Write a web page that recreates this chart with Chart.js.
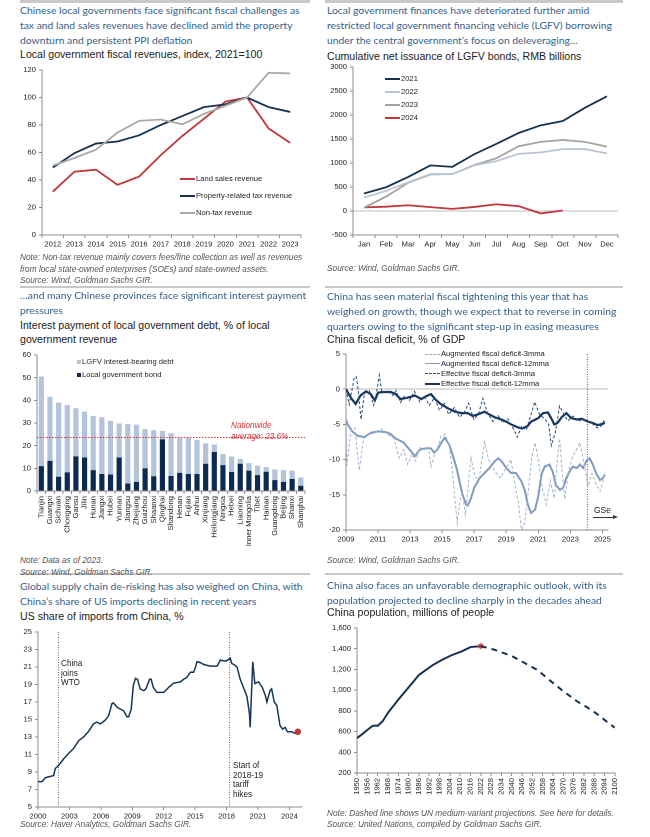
<!DOCTYPE html>
<html>
<head>
<meta charset="utf-8">
<script src="https://cdn.jsdelivr.net/npm/chart.js@4.4.1/dist/chart.umd.min.js"></script>
<style>
  body { margin: 0; width: 650px; height: 837px; position: relative; overflow: hidden; background: #fff;
         font-family: "Liberation Sans", Arial, sans-serif; }
  .rule { position: absolute; background: #c8c8c8; height: 2px; }
  .title { position: absolute; font-family: Lato, "Open Sans", sans-serif; color: #35618b; font-size: 10.35px;
           line-height: 15px; white-space: nowrap; }
  .sub { position: absolute; color: #222; font-size: 10.6px; line-height: 13.5px; white-space: nowrap; }
  .note { position: absolute; color: #555; font-style: italic; font-size: 8.3px; line-height: 11.5px; white-space: nowrap; }
  .leg { position: absolute; font-size: 7.6px; color: #222; white-space: nowrap; line-height: 10px; }
  .leg i { display: inline-block; width: 15px; height: 0; vertical-align: middle; border-top: 2px solid; margin-right: 1px; }
  .leg b { display: inline-block; width: 4px; height: 4px; vertical-align: middle; margin-right: 1px; }
  .ann { position: absolute; font-size: 8.2px; color: #222; line-height: 9.5px; white-space: nowrap; }
  .box { position: absolute; }
</style>
</head>
<body>

<div class="rule" style="left:20px;top:0;width:290px;height:3px"></div>
<div class="rule" style="left:325px;top:0;width:298px;height:3px"></div>
<div class="rule" style="left:20px;top:286px;width:290px"></div>
<div class="rule" style="left:325px;top:286px;width:298px"></div>
<div class="rule" style="left:20px;top:573px;width:290px"></div>
<div class="rule" style="left:325px;top:573px;width:298px"></div>

<!-- panel 1 -->
<div class="title" style="left:20px;top:3px">Chinese local governments face significant fiscal challenges as<br>tax and land sales revenues have declined amid the property<br>downturn and persistent PPI deflation</div>
<div class="sub" style="left:20px;top:48px">Local government fiscal revenues, index, 2021=100</div>
<div class="box" style="left:18px;top:62px"><canvas id="c1" width="291" height="193" style="width:291px;height:193px"></canvas></div>
<div class="leg" style="left:180px;top:174px"><i style="border-color:#c0373d"></i>Land sales revenue</div>
<div class="leg" style="left:180px;top:191px"><i style="border-color:#17324f"></i>Property-related tax revenue</div>
<div class="leg" style="left:180px;top:208px"><i style="border-color:#a9a9a9"></i>Non-tax revenue</div>
<div class="note" style="left:20px;top:252px">Note: Non-tax revenue mainly covers fees/fine collection as well as revenues<br>from local state-owned enterprises (SOEs) and state-owned assets.<br>Source: Wind, Goldman Sachs GIR.</div>

<!-- panel 2 -->
<div class="title" style="left:327px;top:3px">Local government finances have deteriorated further amid<br>restricted local government financing vehicle (LGFV) borrowing<br>under the central government’s focus on deleveraging…</div>
<div class="sub" style="left:327px;top:50px">Cumulative net issuance of LGFV bonds, RMB billions</div>
<div class="box" style="left:325px;top:59px"><canvas id="c2" width="301" height="196" style="width:301px;height:196px"></canvas></div>
<div class="leg" style="left:385px;top:74px"><i style="border-color:#17324f"></i>2021</div>
<div class="leg" style="left:385px;top:86.5px"><i style="border-color:#bcc5d4"></i>2022</div>
<div class="leg" style="left:385px;top:99.5px"><i style="border-color:#a3a3a3"></i>2023</div>
<div class="leg" style="left:385px;top:112.5px"><i style="border-color:#c0373d"></i>2024</div>
<div class="note" style="left:327px;top:262.5px">Source: Wind, Goldman Sachs GIR.</div>

<!-- panel 3 -->
<div class="title" style="left:20px;top:288px">…and many Chinese provinces face significant interest payment<br>pressures</div>
<div class="sub" style="left:20px;top:319px">Interest payment of local government debt, % of local<br>government revenue</div>
<div class="box" style="left:17px;top:347px"><canvas id="c3" width="295" height="206" style="width:295px;height:206px"></canvas></div>
<div class="leg" style="left:77px;top:357px"><b style="background:#b3c3da"></b>LGFV interest-bearing debt</div>
<div class="leg" style="left:77px;top:370px"><b style="background:#0d2b52"></b>Local government bond</div>
<div class="ann" style="left:231px;top:421px;color:#d9343a;font-style:italic;line-height:10.5px">Nationwide<br>average: 23.6%</div>
<div class="note" style="left:20px;top:555px">Note: Data as of 2023.<br>Source: Wind, Goldman Sachs GIR.</div>

<!-- panel 4 -->
<div class="title" style="left:327px;top:288.5px">China has seen material fiscal tightening this year that has<br>weighed on growth, though we expect that to reverse in coming<br>quarters owing to the significant step-up in easing measures</div>
<div class="sub" style="left:327px;top:333px">China fiscal deficit,  % of GDP</div>
<div class="box" style="left:326px;top:346px"><canvas id="c4" width="292" height="204" style="width:292px;height:204px"></canvas></div>
<div class="leg" style="left:425px;top:349px"><i style="border-top:1px dashed #a3b3cb"></i>Augmented fiscal deficit-3mma</div>
<div class="leg" style="left:425px;top:358.5px"><i style="border-top:1.5px solid #7f9bc0"></i>Augmented fiscal deficit-12mma</div>
<div class="leg" style="left:425px;top:368.5px"><i style="border-top:1px dashed #2a4a73"></i>Effective fiscal deficit-3mma</div>
<div class="leg" style="left:425px;top:378.5px"><i style="border-top:2.5px solid #14365e"></i>Effective fiscal deficit-12mma</div>
<div class="ann" style="left:594px;top:506px;font-size:8.5px">GSe</div>
<div style="position:absolute;left:593px;top:517px;width:20px;border-top:1px solid #333"></div>
<div style="position:absolute;left:613px;top:515px;width:0;height:0;border-left:5px solid #333;border-top:2.5px solid transparent;border-bottom:2.5px solid transparent"></div>
<div class="note" style="left:327px;top:555px">Source: Wind, Goldman Sachs GIR.</div>

<!-- panel 5 -->
<div class="title" style="left:20px;top:579px">Global supply chain de-risking has also weighed on China, with<br>China’s share of US imports declining in recent years</div>
<div class="sub" style="left:20px;top:610px">US share of imports from China, %</div>
<div class="box" style="left:18px;top:624px"><canvas id="c5" width="294" height="199" style="width:294px;height:199px"></canvas></div>
<div class="ann" style="left:61px;top:659px">China<br>joins<br>WTO</div>
<div class="ann" style="left:233px;top:761px">Start of<br>2018-19<br>tariff<br>hikes</div>
<div class="note" style="left:20px;top:818.5px">Source: Haver Analytics, Goldman Sachs GIR.</div>

<!-- panel 6 -->
<div class="title" style="left:327px;top:578px">China also faces an unfavorable demographic outlook, with its<br>population projected to decline sharply in the decades ahead</div>
<div class="sub" style="left:327px;top:606px">China population, millions of people</div>
<div class="box" style="left:327px;top:620px"><canvas id="c6" width="299" height="183" style="width:299px;height:183px"></canvas></div>
<div class="note" style="left:327px;top:807.5px">Note: Dashed line shows UN medium-variant projections. See here for details.<br>Source: United Nations, compiled by Goldman Sachs GIR.</div>

<script>
// ---------- data ----------
// panel 1: fiscal revenues, index 2021=100
const revYears = ['2012', '2013', '2014', '2015', '2016', '2017', '2018', '2019', '2020', '2021', '2022', '2023'];
const landSales = [31.5, 46, 47.5, 36.5, 42.5, 58, 72, 84.5, 97, 100, 77.5, 67];
const propertyTax = [49, 59.5, 66.5, 68, 72.5, 80, 86.5, 93, 95, 100, 93, 89.5];
const nonTax = [50.5, 56, 62, 74.5, 83, 84, 80.5, 88, 94, 100, 118, 117.5];

// panel 2: cumulative net LGFV bond issuance, RMB bn
const months = ['Jan', 'Feb', 'Mar', 'Apr', 'May', 'Jun', 'Jul', 'Aug', 'Sep', 'Oct', 'Nov', 'Dec'];
const lgfv2021 = [365, 495, 710, 950, 920, 1185, 1400, 1625, 1785, 1875, 2150, 2390];
const lgfv2022 = [280, 420, 600, 770, 770, 950, 1040, 1190, 1220, 1290, 1290, 1200];
const lgfv2023 = [70, 300, 590, 760, 770, 960, 1100, 1350, 1440, 1480, 1440, 1340];
const lgfv2024 = [75, 90, 120, 80, 45, 85, 140, 100, -50, 10];

// panel 3: interest payment, % of local government revenue (2023)
const provinces = ['Tianjin', 'Guangxi', 'Sichuan', 'Chongqing', 'Gansu', 'Jilin', 'Hunan', 'Jiangxi', 'Hubei', 'Yunnan',
  'Jiangsu', 'Zhejiang', 'Guizhou', 'Shaanxi', 'Qinghai', 'Shandong', 'Henan', 'Fujian', 'Anhui', 'Xinjiang',
  'Heilongjiang', 'Ningxia', 'Hebei', 'Liaoning', 'Inner Mongolia', 'Tibet', 'Hainan', 'Guangdong', 'Beijing', 'Shanxi', 'Shanghai'];
const govBond = [11, 13.3, 6.3, 8.2, 15.3, 14.8, 9.2, 7.5, 7.3, 14.8, 3.3, 4, 10, 6.5, 22.8, 6.6, 8, 7.5, 7.5, 12,
  17.2, 11.4, 8.4, 12, 9, 7, 8.5, 4.8, 4, 5.3, 2.3];
const lgfvDebt = [39.5, 28.3, 32.7, 29.8, 21.2, 20.2, 23.9, 25.1, 23.7, 15, 26.2, 25.3, 17.3, 20.3, 3.7, 18.9, 15.5, 16, 15, 9,
  3.3, 4.9, 6.8, 2.2, 3.3, 4.2, 2.1, 4.7, 5.2, 3.7, 3.7];
const nationwideAverage = 23.6;

// panel 4: fiscal deficit, % of GDP
const augm3Years = [2009.0, 2009.06, 2009.3, 2009.55, 2009.83, 2010.1, 2010.4, 2010.8, 2011.2, 2011.6, 2012.0, 2012.33, 2012.6,
  2012.85, 2013.1, 2013.35, 2013.6, 2013.9, 2014.15, 2014.3, 2014.55, 2014.8, 2014.94, 2015.2, 2015.45, 2015.65, 2015.94,
  2016.1, 2016.25, 2016.45, 2016.8, 2017.05, 2017.3, 2017.65, 2017.9, 2018.15, 2018.4, 2018.65, 2018.9, 2019.3, 2019.5,
  2019.75, 2019.95, 2020.15, 2020.4, 2020.6, 2020.8, 2021.0, 2021.25, 2021.5, 2021.75, 2022.0, 2022.15, 2022.33, 2022.5,
  2022.65, 2022.9, 2023.15, 2023.4, 2023.6, 2023.85, 2024.1, 2024.35, 2024.6, 2024.85, 2025.05, 2025.15];
const augm3 = [-4.2, -10.8, -6, -5.5, -11.5, -7, -6.5, -6.2, -5.6, -6.4, -7, -9.8, -8.6,
  -10.7, -9.2, -10.2, -8.3, -8.6, -8.2, -11, -9.2, -7.8, -6.6, -6.4, -8, -12, -19,
  -16, -14.5, -17.8, -9.7, -12.5, -12.8, -7.5, -10, -11, -12, -12.6, -11.5, -10, -13,
  -16, -20, -19, -14, -9.5, -7.6, -10, -14, -16.4, -13, -15.5, -11, -7, -12,
  -15.6, -11.5, -9.5, -8.5, -7.6, -10.5, -13.8, -12, -13.5, -14.5, -13, -11.8];
const augm12Years = [2009.0, 2009.1, 2009.4, 2009.7, 2010.15, 2010.55, 2011.0, 2011.5, 2011.8, 2012.1, 2012.6, 2013.05, 2013.3,
  2013.6, 2013.9, 2014.3, 2014.5, 2014.7, 2015.0, 2015.15, 2015.45, 2015.65, 2015.9, 2016.1, 2016.3, 2016.5, 2016.6, 2016.8,
  2017.0, 2017.35, 2017.65, 2017.95, 2018.3, 2018.5, 2018.7, 2019.0, 2019.3, 2019.6, 2019.95, 2020.15, 2020.35, 2020.55,
  2020.8, 2021.0, 2021.2, 2021.4, 2021.7, 2021.9, 2022.1, 2022.35, 2022.55, 2022.75, 2022.95, 2023.15, 2023.4, 2023.6,
  2023.8, 2024.0, 2024.2, 2024.4, 2024.6, 2024.85, 2025.05, 2025.15];
const augm12 = [-4.3, -5, -6, -6.6, -6.8, -6.2, -6, -6.1, -6.4, -7, -7.6, -8.8, -9.5,
  -8.6, -8.4, -8.4, -9, -8.6, -7.4, -6.9, -7.9, -9.3, -11.2, -13.3, -15.2, -16.4, -16.5, -15.5,
  -14, -12.6, -11.9, -11.2, -10.2, -9.8, -10.2, -11.2, -11.9, -11.9, -13.1, -14.3, -16.4, -17.6,
  -17.1, -15.2, -12.1, -11, -10.7, -11.7, -13.6, -14.3, -14, -12.6, -11.7, -11, -11.2, -10.7,
  -11.2, -10.2, -9.8, -10.7, -11.9, -12.9, -12.6, -12.1];
const eff3Years = [2009.0, 2009.2, 2009.5, 2009.63, 2009.73, 2009.94, 2010.15, 2010.46, 2010.73, 2010.88, 2011.08, 2011.23,
  2011.6, 2011.92, 2012.13, 2012.4, 2012.65, 2012.96, 2013.27, 2013.6, 2013.9, 2014.2, 2014.52, 2014.83, 2015.15, 2015.4,
  2015.77, 2016.08, 2016.4, 2016.65, 2016.98, 2017.27, 2017.54, 2017.85, 2018.17, 2018.48, 2018.79, 2019.1, 2019.42,
  2019.69, 2019.98, 2020.25, 2020.52, 2020.77, 2021.08, 2021.4, 2021.65, 2021.81, 2022.06, 2022.33, 2022.6, 2022.85,
  2023.17, 2023.48, 2023.79, 2024.1, 2024.42, 2024.69, 2024.94, 2025.15];
const eff3 = [0, -2.2, 1.5, 1.8, 0.5, -4.3, -0.6, -0.2, -2.3, -0.8, 2, -0.4,
  -0.3, -0.9, -0.2, -1.9, -0.9, -1.6, -0.3, -1.8, -1, -2.3, -1.2, -3, -2, -3.6,
  -2.6, -4, -3.2, -2, -4.3, -3.5, -1.3, -3.5, -4.6, -3.7, -4.8, -4.2, -5.5,
  -6.8, -5.2, -5.8, -3.8, -1.8, -3.6, -4.2, -5, -8, -6.2, -2.4, -3.6, -4.5,
  -3.8, -4.6, -4.2, -4.5, -5, -5.5, -5.2, -4.2];
const eff12Years = [2009.0, 2009.3, 2009.6, 2009.9, 2010.25, 2010.55, 2010.8, 2011.0, 2011.3, 2011.8, 2012.1, 2012.4, 2012.85,
  2013.3, 2013.7, 2014.0, 2014.3, 2014.6, 2014.9, 2015.35, 2015.8, 2016.2, 2016.6, 2016.9, 2017.2, 2017.65, 2017.95, 2018.3,
  2018.7, 2019.0, 2019.3, 2019.7, 2020.0, 2020.35, 2020.55, 2021.0, 2021.3, 2021.6, 2021.8, 2022.0, 2022.2, 2022.45, 2022.75,
  2023.05, 2023.4, 2023.7, 2024.1, 2024.4, 2024.7, 2025.05, 2025.15];
const eff12 = [0, -1.2, -2.1, -0.9, -0.3, -0.7, -1.6, -0.5, -0.4, -0.4, -0.7, -1.4, -1.2,
  -0.9, -1.4, -1, -0.7, -1.5, -2.1, -2.7, -3.2, -3.4, -3.4, -3.8, -3.6, -3.2, -3.6, -4,
  -4.3, -4.6, -5, -5.4, -5.6, -5.2, -4.6, -4.1, -3.4, -3.3, -4.1, -5, -4.8, -4, -3.4,
  -4.1, -4.3, -4.2, -4.6, -4.8, -5.1, -4.9, -4.7];
const deficitYearTicks = [2009, 2011, 2013, 2015, 2017, 2019, 2021, 2023, 2025];
const forecastStart = 2024.06;

// panel 5: US share of imports from China, %
const usYears = [2000.0, 2000.4, 2000.7, 2001.2, 2001.5, 2001.65, 2002.0, 2002.45, 2002.9, 2003.4, 2003.9, 2004.35, 2004.8,
  2005.3, 2005.6, 2005.95, 2006.4, 2006.75, 2007.05, 2007.2, 2007.55, 2008.0, 2008.17, 2008.5, 2008.65, 2008.9, 2009.1,
  2009.3, 2009.5, 2009.75, 2010.1, 2010.3, 2010.65, 2010.8, 2011.0, 2011.35, 2012.0, 2012.5, 2012.95, 2013.6, 2013.9,
  2014.2, 2014.55, 2014.85, 2015.0, 2015.17, 2015.5, 2015.8, 2016.1, 2016.45, 2017.1, 2017.4, 2017.7, 2018.0, 2018.35,
  2018.5, 2018.8, 2019.0, 2019.3, 2019.6, 2019.95, 2020.19, 2020.25, 2020.5, 2020.7, 2021.05, 2021.4, 2021.7, 2021.85,
  2022.15, 2022.3, 2022.55, 2022.8, 2022.95, 2023.1, 2023.35, 2023.6, 2023.8, 2024.2, 2024.55, 2024.7, 2024.8];
const usShare = [7.9, 7.9, 8.35, 8.5, 8.6, 9.4, 9.8, 10.5, 11.1, 11.7, 12.6, 13, 13.6,
  14.5, 14.7, 14.5, 14.9, 15.45, 16.8, 16.9, 16.4, 16.1, 16, 15.3, 15.3, 16.2, 18.9,
  19.7, 19.6, 18.5, 18.3, 18.5, 19.6, 19.6, 18.7, 18.1, 18.1, 18.7, 19.15, 19.3, 19.6,
  19.8, 20.4, 20.4, 20.85, 21.6, 21.5, 21.3, 21.2, 21.1, 21.1, 21.8, 21.7, 21.7, 22,
  21.4, 21.2, 21, 19.6, 18.7, 17.6, 15.6, 14.1, 21.6, 19.1, 19.3, 18.7, 17.75, 17,
  18.3, 18.5, 17, 16.6, 15.45, 14.3, 13.9, 14.1, 13.6, 13.6, 13.4, 13.6, 13.6];
const usYearTicks = [2000, 2003, 2006, 2009, 2012, 2015, 2018, 2021, 2024];
const wtoEntry = 2001.95;
const tariffStart = 2018.28;

// panel 6: China population, millions
const popYears = [1950, 1953, 1956, 1959, 1961, 1962, 1965, 1968, 1971, 1974, 1978, 1982, 1986, 1990, 1994, 1999, 2005, 2011, 2016, 2022];
const popHist = [536, 575, 615, 654, 658, 655, 702, 781, 844, 908, 987, 1067, 1146, 1194, 1241, 1289, 1337, 1375, 1416, 1425];
const projYears = [2022, 2030, 2040, 2047, 2055, 2063, 2070, 2078, 2086, 2090, 2096, 2100];
const popProj = [1425, 1390, 1330, 1267, 1194, 1083, 990, 892, 813, 765, 686, 638];
const popYearTicks = [];
for (let y = 1950; y <= 2100; y += 6) popYearTicks.push(y);

// ---------- shared setup ----------
Chart.defaults.font.family = '"Liberation Sans", Arial, sans-serif';
Chart.defaults.font.size = 7.6;
Chart.defaults.color = '#222';
Chart.defaults.animation = false;
Chart.defaults.devicePixelRatio = 2;
Chart.defaults.plugins.legend.display = false;
Chart.defaults.plugins.tooltip.enabled = false;
Chart.defaults.elements.point.radius = 0;
Chart.defaults.elements.line.tension = 0;

const AXIS = '#8c8c8c';
const NAVY = '#17324f';
const RED = '#c0373d';

function pts(xs, ys) { return xs.map((x, i) => ({ x, y: ys[i] })); }

function yAxis(min, max, step, width, fmt, zeroLine) {
  return {
    min, max,
    ticks: { stepSize: step, padding: 3, callback: fmt || (v => String(v)) },
    grid: {
      drawOnChartArea: !!zeroLine, tickLength: 3, tickColor: AXIS,
      color: c => (zeroLine && c.tick && c.tick.value === 0) ? '#bdbdbd' : 'rgba(0,0,0,0)'
    },
    border: { color: AXIS },
    afterFit: s => { s.width = width; }
  };
}
function catAxis(height, rot) {
  return {
    offset: true,
    grid: { offset: true, drawOnChartArea: false, tickLength: 3, color: AXIS },
    border: { color: AXIS },
    ticks: { autoSkip: false, maxRotation: rot, minRotation: rot, padding: 2 },
    afterFit: s => { s.height = height; }
  };
}
function linAxis(min, max, tickValues, height, rot) {
  return {
    type: 'linear', min, max,
    afterBuildTicks: s => { s.ticks = tickValues.map(v => ({ value: v })); },
    ticks: { autoSkip: false, maxRotation: rot, minRotation: rot, padding: 2, callback: v => String(v) },
    grid: { drawOnChartArea: false, tickLength: 3, color: AXIS },
    border: { color: AXIS },
    afterFit: s => { s.height = height; }
  };
}
function vLines(values, color, dash) {
  return {
    id: 'vlines',
    beforeDatasetsDraw(chart) {
      const { ctx, chartArea: a, scales: { x } } = chart;
      ctx.save();
      ctx.strokeStyle = color; ctx.lineWidth = 1; ctx.setLineDash(dash);
      values.forEach(v => {
        const px = x.getPixelForValue(v);
        ctx.beginPath(); ctx.moveTo(px, a.top); ctx.lineTo(px, a.bottom); ctx.stroke();
      });
      ctx.restore();
    }
  };
}
function lineSet(data, color, width, dash) {
  return { data, borderColor: color, borderWidth: width, borderDash: dash || [], pointRadius: 0, fill: false };
}

// ---------- panel 1 ----------
new Chart(document.getElementById('c1'), {
  type: 'line',
  data: {
    labels: revYears,
    datasets: [
      lineSet(nonTax, '#a9a9a9', 1.8),
      lineSet(propertyTax, NAVY, 1.8),
      lineSet(landSales, RED, 1.8)
    ]
  },
  options: {
    responsive: false,
    layout: { padding: { top: 8, right: 8 } },
    scales: { x: catAxis(20, 0), y: yAxis(0, 120, 20, 24) }
  }
});

// ---------- panel 2 ----------
new Chart(document.getElementById('c2'), {
  type: 'line',
  data: {
    labels: months,
    datasets: [
      lineSet(lgfv2022, '#bcc5d4', 1.8),
      lineSet(lgfv2023, '#a3a3a3', 1.8),
      lineSet(lgfv2021, NAVY, 1.8),
      lineSet(lgfv2024, RED, 1.8)
    ]
  },
  options: {
    responsive: false,
    layout: { padding: { top: 8, right: 8 } },
    scales: { x: catAxis(20, 0), y: yAxis(-500, 3000, 500, 28, null, true) }
  }
});

// ---------- panel 3 ----------
const avgLine = {
  id: 'avgLine',
  afterDatasetsDraw(chart) {
    const { ctx, chartArea: a, scales: { y } } = chart;
    const py = y.getPixelForValue(nationwideAverage);
    ctx.save();
    ctx.strokeStyle = '#d9343a'; ctx.lineWidth = 1; ctx.setLineDash([1.5, 1.5]);
    ctx.beginPath(); ctx.moveTo(a.left, py); ctx.lineTo(a.right, py); ctx.stroke();
    ctx.restore();
  }
};
new Chart(document.getElementById('c3'), {
  type: 'bar',
  data: {
    labels: provinces,
    datasets: [
      { data: govBond, backgroundColor: '#0d2b52', stack: 's', barPercentage: 0.6, categoryPercentage: 1 },
      { data: lgfvDebt, backgroundColor: '#b3c3da', stack: 's', barPercentage: 0.6, categoryPercentage: 1 }
    ]
  },
  options: {
    responsive: false,
    layout: { padding: { top: 8, right: 6 } },
    scales: {
      x: Object.assign(catAxis(62, 90), { stacked: true }),
      y: Object.assign(yAxis(0, 60, 10, 20), { stacked: true })
    }
  },
  plugins: [avgLine]
});

// ---------- panel 4 ----------
new Chart(document.getElementById('c4'), {
  type: 'line',
  data: {
    datasets: [
      lineSet(pts(augm3Years, augm3), '#a3b3cb', 1, [3, 2]),
      lineSet(pts(augm12Years, augm12), '#7f9bc0', 2),
      lineSet(pts(eff3Years, eff3), '#2a4a73', 1, [3, 2]),
      lineSet(pts(eff12Years, eff12), '#14365e', 2.2)
    ]
  },
  options: {
    responsive: false,
    layout: { padding: { top: 8, right: 10 } },
    scales: {
      x: linAxis(2009, 2025.35, deficitYearTicks, 20, 0),
      y: yAxis(-20, 5, 5, 20, null, true)
    }
  },
  plugins: [vLines([forecastStart], '#555', [1, 1.5])]
});

// ---------- panel 5 ----------
const lastUs = usYears.length - 1;
new Chart(document.getElementById('c5'), {
  type: 'line',
  data: {
    datasets: [{
      data: pts(usYears, usShare), borderColor: '#173554', borderWidth: 1.5, fill: false,
      pointRadius: c => c.dataIndex === lastUs ? 2.5 : 0,
      pointBackgroundColor: RED, pointBorderColor: RED
    }]
  },
  options: {
    responsive: false,
    layout: { padding: { top: 8, right: 10 } },
    scales: {
      x: linAxis(2000, 2025.2, usYearTicks, 16, 0),
      y: yAxis(5, 25, 2, 20)
    }
  },
  plugins: [vLines([wtoEntry, tariffStart], '#666', [1, 1.5])]
});

// ---------- panel 6 ----------
new Chart(document.getElementById('c6'), {
  type: 'line',
  data: {
    datasets: [
      lineSet(pts(projYears, popProj), '#17324f', 2, [6, 5]),
      {
        data: pts(popYears, popHist), borderColor: '#17324f', borderWidth: 2, fill: false,
        pointRadius: c => c.dataIndex === popYears.length - 1 ? 3 : 0,
        pointStyle: 'star', pointBorderColor: RED, pointBorderWidth: 1.2
      }
    ]
  },
  options: {
    responsive: false,
    layout: { padding: { top: 8, right: 10 } },
    scales: {
      x: linAxis(1950, 2100, popYearTicks, 30, 90),
      y: yAxis(200, 1600, 200, 30, v => v.toLocaleString('en-US'))
    }
  }
});
</script>
</body>
</html>
